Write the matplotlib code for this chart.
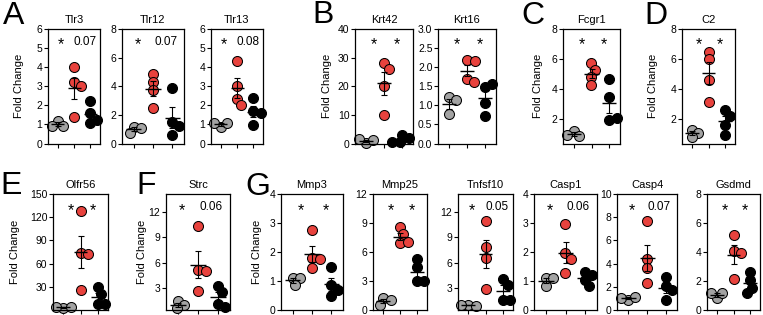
import numpy as np
import matplotlib
matplotlib.use('Agg')
import matplotlib.pyplot as plt

plt.rcParams['font.family'] = ['Liberation Sans', 'DejaVu Sans']

# ---- data: fold change per animal, groups = grey / red / black ----
genes = ['Tlr3', 'Tlr12', 'Tlr13', 'Krt42', 'Krt16', 'Fcgr1', 'C2',
         'Olfr56', 'Strc', 'Mmp3', 'Mmp25', 'Tnfsf10', 'Casp1', 'Casp4', 'Gsdmd']

grey = [[1.2, 0.9, 0.92], [1.15, 1.1, 0.7], [0.85, 1.1, 1.05],
        [0.3, 1.3, 1.4], [1.22, 1.13, 0.78], [1.2, 0.85, 0.95],
        [1.3, 1.05, 0.8], [2.5, 4.0, 3.5], [1.5, 0.95, 0.6],
        [1.1, 1.12, 0.85], [1.25, 1.05, 0.55], [1.0, 0.9, 1.0],
        [1.1, 1.1, 0.83], [0.85, 1.15, 1.05], [0.8, 1.2, 1.15]]

red = [[4.0, 3.2, 3.0, 1.4], [4.85, 4.3, 3.75, 2.45], [4.3, 3.0, 2.35, 2.0],
       [28, 26, 20, 10], [2.2, 2.15, 1.7, 1.6], [5.75, 5.3, 4.8, 4.25],
       [6.5, 6.0, 4.6, 3.15], [128, 74, 73, 26], [10.3, 5.1, 5.0, 2.6],
       [2.75, 1.8, 1.77, 1.46], [8.6, 7.9, 6.9, 7.0], [10.9, 7.8, 6.5, 2.9],
       [2.95, 1.95, 1.77, 1.26], [7.65, 4.4, 3.65, 2.35], [5.2, 4.05, 3.9, 2.15]]

black = [[2.25, 1.6, 1.05, 1.25], [3.9, 1.5, 1.2, 0.6], [2.4, 1.7, 1.6, 0.95],
         [3.0, 1.8, 0.5, 0.6], [1.47, 1.55, 1.05, 0.72], [4.7, 3.45, 1.95, 2.05],
         [2.6, 2.2, 1.6, 0.95], [30, 21, 8, 8], [3.25, 2.5, 1.15, 0.7],
         [1.5, 0.85, 0.7, 0.5], [5.3, 4.4, 3.0, 3.0], [4.1, 3.4, 1.55, 1.6],
         [1.32, 1.22, 1.05, 0.83], [2.85, 2.1, 1.7, 0.85], [2.65, 2.05, 1.55, 1.15]]

stats = [['*', '0.07'], ['*', '0.07'], ['*', '0.08'], ['*', '*'], ['*', '*'],
         ['*', '*'], ['*', '*'], ['*', '*'], ['*', '0.06'], ['*', '*'],
         ['*', '*'], ['*', '0.05'], ['*', '0.06'], ['*', '0.07'], ['*', '*']]

ylims = [(0, 6), (0, 8), (0, 6), (0, 40), (0, 3), (0.37, 8), (0.37, 8),
         (0, 150), (0.4, 14.1), (0, 4), (0, 12), (0.4, 14.1), (0, 4), (0, 10), (0, 8)]
yticks = [range(0, 7), range(0, 9, 2), range(0, 7), range(0, 41, 10),
          np.arange(0, 3.01, 0.5), range(2, 9, 2), range(2, 9, 2),
          range(30, 151, 30), range(3, 13, 3), range(0, 5), range(0, 13, 3),
          range(3, 13, 3), range(0, 5), range(0, 11, 2), range(0, 9, 2)]

# ---- layout in pixels (left, right, top, bottom) ----
W, H = 763, 315
top_row = (29, 143.5)
bot_row = (194, 310)
boxes = [(48, 100), (122, 184), (211, 263), (355, 413), (438, 496),
         (563, 620), (682, 735),
         (53, 108), (166, 230), (281, 343), (373, 427), (458, 513),
         (534, 597), (617, 677), (707, 760)]
ylabel_px = {0: 24, 3: 23, 5: 20, 6: 24, 7: 33, 8: 19, 9: 19}
letters = [('A', 3, 1), ('B', 312, 0), ('C', 521, 1), ('D', 644, 1),
           ('E', 0, 171), ('F', 136, 171), ('G', 245, 172)]

colors = ['#a3a3a3', '#e8423d', '#000000']
diam = 10.0  # marker diameter px


def swarm(ax, x, ys):
    pix = ax.transData.transform([(x, y) for y in ys])
    placed = []
    out = []
    for px, py in pix:
        k = 0
        while True:
            off = (k + 1) // 2 * 0.5 * (1 if k % 2 else -1)
            cx = px + off
            if all((cx - qx) ** 2 + (py - qy) ** 2 >= (diam * 0.75) ** 2 for qx, qy in placed):
                break
            k += 1
        placed.append((cx, py))
        out.append(ax.transData.inverted().transform((cx, py))[0])
    return out


fig = plt.figure(figsize=(W / 100, H / 100), dpi=100)

for i, g in enumerate(genes):
    x0, x1 = boxes[i]
    yt, yb = top_row if i < 7 else bot_row
    ax = fig.add_axes([x0 / W, (H - yb) / H, (x1 - x0) / W, (yb - yt) / H])
    ax.set_xlim(0.4, 3.6)
    ax.set_ylim(*ylims[i])
    groups = [grey[i], red[i], black[i]]
    for j, vals in enumerate(groups):
        xs = swarm(ax, j + 1, vals)
        ax.scatter(xs, vals, s=(diam * 0.72) ** 2, c=colors[j], edgecolors='black',
                   linewidths=0.75, zorder=2, clip_on=False)
        m = np.mean(vals)
        sem = np.std(vals, ddof=1) / np.sqrt(len(vals))
        ax.hlines(m, j + 1 - 0.4, j + 1 + 0.4, color='black', lw=1.0, zorder=3)
        ax.errorbar(j + 1, m, yerr=sem, fmt='none', ecolor='black', elinewidth=0.8,
                    capsize=2, capthick=0.8, zorder=3)
    s1, s2 = stats[i]
    if s2 == '*':
        ax.text(1.45, 0.86, '*', transform=ax.get_xaxis_transform(), ha='center',
                va='center', fontsize=11.5)
        ax.text(2.7, 0.86, '*', transform=ax.get_xaxis_transform(), ha='center',
                va='center', fontsize=11.5)
    else:
        ax.text(1.2, 0.86, '*', transform=ax.get_xaxis_transform(), ha='center',
                va='center', fontsize=11.5)
        ax.text(2.65, 0.885, s2, transform=ax.get_xaxis_transform(), ha='center',
                va='center', fontsize=8.5)
    ax.set_xticks([1, 2, 3])
    ax.set_xticklabels([])
    ax.set_yticks(list(yticks[i]))
    if i == 4:
        ax.set_yticklabels(['%.1f' % v for v in yticks[i]])
    ax.tick_params(axis='both', length=3, width=0.8, labelsize=7.5, pad=1)
    for sp in ax.spines.values():
        sp.set_linewidth(0.9)
    ax.set_title(g, fontsize=8, pad=4)
    if i in ylabel_px:
        ax.set_ylabel('Fold Change', fontsize=8)
        ax.yaxis.set_label_coords(-ylabel_px[i] / (x1 - x0), 0.5)

for ch, lx, ly in letters:
    fig.text(lx / W, 1 - ly / H, ch, fontsize=23, ha='left', va='top')

fig.savefig('out.png', dpi=100)
